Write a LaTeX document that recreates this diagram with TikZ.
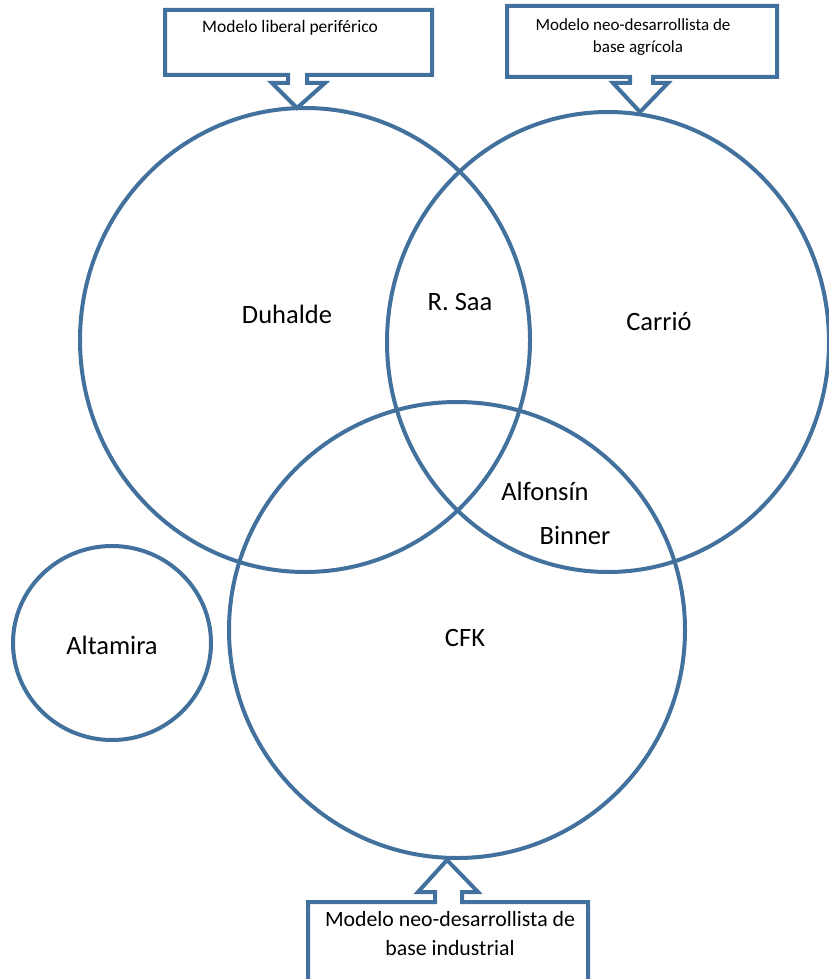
\documentclass[tikz,border=0pt]{standalone}
\usepackage{fontspec}
\setmainfont{Carlito}
\definecolor{setblue}{RGB}{65,113,156}

\begin{document}
\begin{tikzpicture}[x=1pt, y=-1pt,
    line width=4pt, % outline thickness of sets and callouts
    set/.style={draw=setblue},
    callout/.style={draw=setblue, line join=miter},
    lbl/.style={inner sep=0pt, font=\fontsize{26.5}{30}\selectfont},
    note/.style={inner sep=0pt, align=center}
%    ,every node/.style={draw=red}
   ]
    \useasboundingbox (0,0) rectangle (829,979);

    % centres of the sets
    \coordinate (duhalde) at (305,340);
    \coordinate (carrio) at (608,342);
    \coordinate (cfk) at (457,630);
    \coordinate (altamira) at (112,643);

    \draw[set] (duhalde) ellipse [x radius=225, y radius=232];
    \draw[set] (carrio) ellipse [x radius=221, y radius=230];
    \draw[set] (cfk) ellipse [x radius=228, y radius=228];
    \draw[set] (altamira) ellipse [x radius=99, y radius=97];

    % callouts
    \draw[callout] (165,10) -- (432,10) -- (432,75) -- (307,75) -- (307,83)
        -- (325,83) -- (297,108) -- (272,83) -- (288,83) -- (288,75)
        -- (165,75) -- cycle;
    \draw[callout] (507,6) -- (777,6) -- (777,77) -- (653,77) -- (653,83)
        -- (668,83) -- (640,112) -- (613,83) -- (630,83) -- (630,77)
        -- (507,77) -- cycle;
    \draw[callout] (308,990) -- (308,902) -- (435,902) -- (435,892)
        -- (418,892) -- (447,860) -- (478,892) -- (462,892) -- (462,902)
        -- (588,902) -- (588,990);

    \node[note, font=\fontsize{17.5}{21}\selectfont] (liberal) at (290,28)
        {Modelo liberal periférico};
    \node[note, font=\fontsize{17}{22}\selectfont] (agricola) at (633,37)
        {Modelo neo-desarrollista de\\ \hspace*{10pt}base agrícola};
    \node[note, font=\fontsize{21.8}{29}\selectfont] (industrial) at (450,933)
        {Modelo neo-desarrollista de\\ base industrial};

    % members
    \node[lbl] (n-duhalde) at (287,314) {Duhalde};
    \node[lbl] (n-saa) at (460,302) {R. Saa};
    \node[lbl] (n-carrio) at (659,321) {Carrió};
    \node[lbl] (n-alfonsin) at (545,491) {Alfonsín};
    \node[lbl] (n-binner) at (575,535) {Binner};
    \node[lbl] (n-cfk) at (465,638) {CFK};
    \node[lbl] (n-altamira) at (112,645) {Altamira};
\end{tikzpicture}
\end{document}
